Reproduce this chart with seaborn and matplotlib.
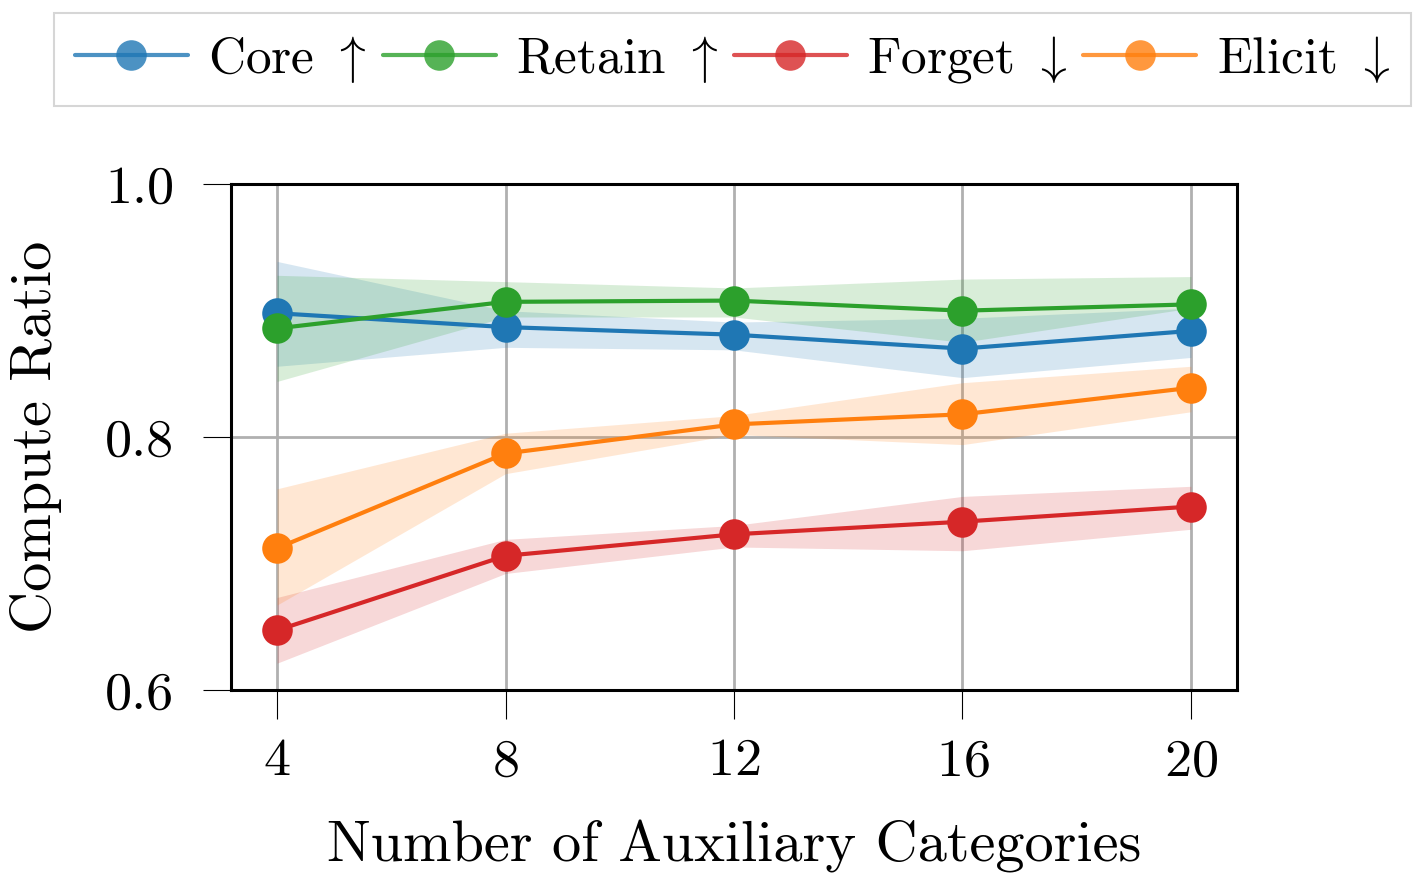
import seaborn as sns
import matplotlib.pyplot as plt
import numpy as np
import pandas as pd

sns.set_style('white')
plt.rcParams['font.family'] = 'serif'
plt.rcParams['font.serif'] = ['cmr10']
plt.rcParams['mathtext.fontset'] = 'cm'
plt.rcParams['axes.formatter.use_mathtext'] = True
plt.rcParams['text.color'] = 'black'
plt.rcParams['axes.labelcolor'] = 'black'
plt.rcParams['xtick.color'] = 'black'
plt.rcParams['ytick.color'] = 'black'

n_aux = [4, 8, 12, 16, 20]

core = [0.898, 0.887, 0.881, 0.870, 0.884]
core_lo = [0.856, 0.871, 0.869, 0.847, 0.863]
core_hi = [0.939, 0.900, 0.891, 0.894, 0.902]

retain = [0.886, 0.907, 0.908, 0.900, 0.905]
retain_lo = [0.844, 0.895, 0.895, 0.875, 0.902]
retain_hi = [0.928, 0.923, 0.918, 0.925, 0.927]

forget = [0.647, 0.706, 0.723, 0.733, 0.745]
forget_lo = [0.621, 0.692, 0.713, 0.710, 0.727]
forget_hi = [0.673, 0.719, 0.730, 0.753, 0.761]

elicit = [0.712, 0.787, 0.810, 0.818, 0.839]
elicit_lo = [0.667, 0.771, 0.802, 0.794, 0.820]
elicit_hi = [0.759, 0.803, 0.817, 0.843, 0.856]

names = [r'Core $\uparrow$', r'Retain $\uparrow$', r'Forget $\downarrow$', r'Elicit $\downarrow$']
colors = ['tab:blue', 'tab:green', 'tab:red', 'tab:orange']
means = [core, retain, forget, elicit]
lows = [core_lo, retain_lo, forget_lo, elicit_lo]
highs = [core_hi, retain_hi, forget_hi, elicit_hi]

fig = plt.figure(figsize=(14.28, 8.82), dpi=100)
ax = fig.add_axes([0.162, 0.218, 0.704, 0.573])

for name, c, m, lo, hi in zip(names, colors, means, lows, highs):
    df = pd.DataFrame({'x': n_aux, 'y': m})
    ax.fill_between(n_aux, lo, hi, color=c, alpha=0.18, linewidth=0)
    sns.lineplot(data=df, x='x', y='y', ax=ax, color=c, linewidth=3,
                 marker='o', markersize=22, markeredgewidth=0, label=name)

ax.set_ylim(0.6, 1.0)
ax.set_xticks(n_aux)
ax.set_yticks([0.6, 0.8, 1.0])
ax.set_yticklabels(['0.6', '0.8', '1.0'])
ax.grid(True, color='#b0b0b0', linewidth=2)
ax.set_axisbelow(True)
for s in ax.spines.values():
    s.set_color('black')
    s.set_linewidth(2.2)
ax.tick_params(axis='both', labelsize=39, width=0.8, direction='out',
               left=True, bottom=True)
ax.tick_params(axis='x', length=21, pad=14)
ax.tick_params(axis='y', length=20, pad=21)
ax.set_xlabel('Number of Auxiliary Categories', fontsize=42, labelpad=25)
ax.set_ylabel('Compute Ratio', fontsize=42, labelpad=31)

handles, labels = ax.get_legend_handles_labels()
ax.legend_.remove()
leg = fig.legend(handles, labels, loc='upper center', ncol=4, fontsize=37,
                 bbox_to_anchor=(0.513, 0.985), borderaxespad=0, frameon=True,
                 fancybox=False, edgecolor='#cccccc', borderpad=0.4,
                 columnspacing=0.3, handletextpad=0.4, handlelength=2.2)
leg.get_frame().set_linewidth(1.5)
for h in leg.legend_handles:
    h.set_alpha(0.8)

fig.savefig('out.png', dpi=100)
